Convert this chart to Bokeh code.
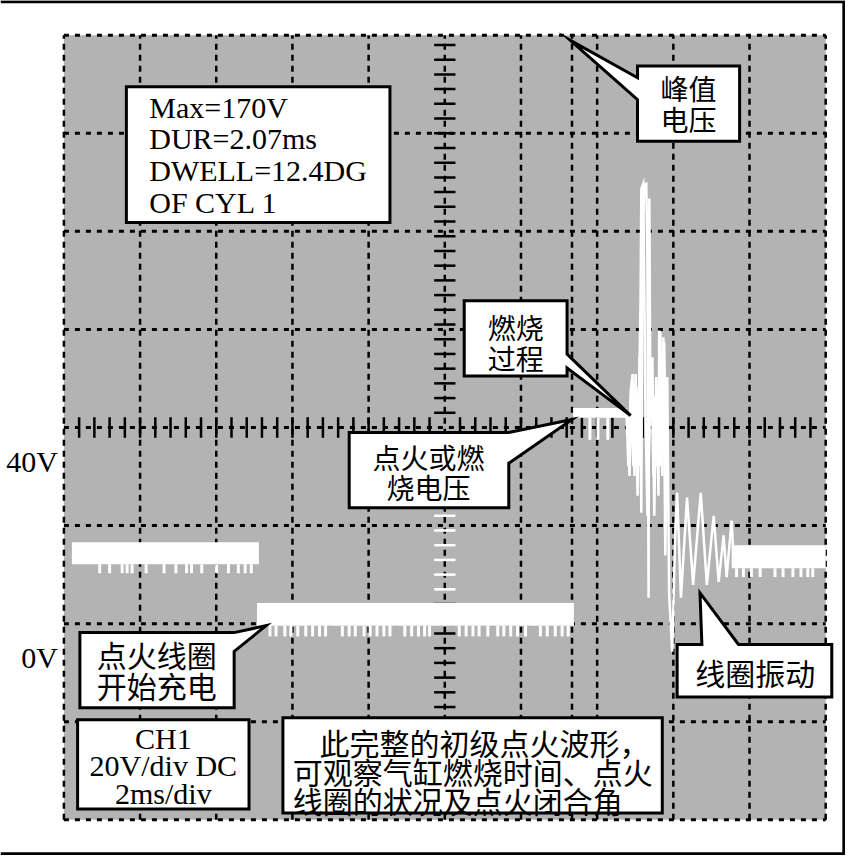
from bokeh.plotting import figure
from bokeh.models import Range1d
from bokeh.core.properties import value
from bokeh.embed import file_html
from bokeh.resources import INLINE

# ---------------- data ----------------
# graticule: 2 ms/div horizontally, 20 V/div vertically
grid_t = [0, 2, 4, 6, 8, 10, 12, 14, 16, 18, 20]
grid_v = [-40, -20, 0, 20, 40, 60, 80, 100, 120]
cursor_t = [13.34]
center_t = 10
center_v = 40

# voltage labels on the left
tick_values = [40, 0]
tick_labels = ["40V", "0V"]

# flat parts of the primary waveform (thick noisy bands), time in ms, volts
level_start = [0.21, 5.07, 13.37, 17.53]
level_end = [5.12, 13.39, 14.77, 20.0]
level_top = [16.6, 4.2, 44.0, 16.0]
level_bottom = [12.1, -0.4, 42.0, 11.3]
level_dip = [10.3, -2.6, 37.5, 9.5]

# noise dips hanging under each band
dips_battery = [0.94, 1.20, 1.53, 1.66, 1.79, 2.16, 2.63, 2.94, 3.22, 3.35,
                3.62, 4.01, 4.32, 4.58, 4.76, 4.92]
dips_dwell = [5.41, 5.57, 5.80, 5.96, 6.14, 6.35, 6.53, 6.71, 6.87, 7.31,
              7.49, 7.65, 7.88, 8.04, 8.22, 8.40, 8.56, 8.95, 9.13, 9.31,
              9.47, 9.60, 10.38, 10.56, 10.74, 10.90, 11.13, 11.39, 11.55,
              11.73, 11.91, 12.12, 12.51, 12.69, 12.90, 13.08, 13.24]
dips_burn = [13.81, 14.02, 14.28]
dips_rest = [17.66, 17.84, 18.05, 18.28, 18.67, 18.88, 19.14, 19.35, 19.53, 19.66]

# end of burn, peak and coil ringing (first sweep)
osc_t = [14.77, 14.82, 14.88, 14.93, 14.98, 15.03, 15.09, 15.11, 15.16, 15.19,
         15.24, 15.29, 15.32, 15.35, 15.37, 15.40, 15.45, 15.50, 15.55, 15.61,
         15.63, 15.68, 15.74, 15.79, 15.84, 15.89, 15.97, 16.05, 16.10, 16.20,
         16.36, 16.52, 16.72, 16.88, 17.06, 17.19, 17.32, 17.40, 17.53, 17.58]
osc_v = [43.0, 32.1, 47.3, 50.9, 30.1, 48.3, 32.1, 54.3, 22.6, 80.6,
         89.5, 89.7, 74.5, 5.3, 86.7, 42.2, 54.3, 22.0, 50.3, 26.1,
         59.8, 32.1, 58.4, 13.9, 50.3, 5.9, -5.7, 18.0, 26.7, 5.3,
         25.7, 7.9, 26.7, 7.9, 22.0, 8.5, 18.0, 9.5, 21.0, 13.9]
# overlapping second sweep around the firing spike
osc2_t = [14.80, 14.85, 14.90, 14.95, 15.01, 15.06, 15.14, 15.16, 15.21, 15.27,
          15.32, 15.42, 15.48, 15.53, 15.58, 15.66, 15.71, 15.76, 15.81]
osc2_v = [42.2, 30.1, 48.3, 32.1, 50.9, 26.1, 66.5, 88.7, 89.7, 42.2,
          22.0, 53.9, 30.1, 46.3, 32.1, 59.4, 30.1, 57.4, 32.1]

# ---------------- figure ----------------
X0, X1 = -1.6645, 20.5202
Y0, Y1 = -47.2727, 127.0707
p = figure(width=845, height=855, x_range=Range1d(X0, X1), y_range=Range1d(Y0, Y1),
           output_backend="svg", toolbar_location=None, min_border=0,
           x_axis_location=None, y_axis_location=None)
p.outline_line_color = None
p.background_fill_color = "white"
p.border_fill_color = "white"
p.grid.grid_line_color = None

GRAY = "#b3b3b3"
gl, gr, gb, gt = grid_t[0], grid_t[-1], grid_v[0], grid_v[-1]

# screen area
p.quad(left=[gl], right=[gr], bottom=[gb], top=[gt], fill_color=GRAY, line_color=None)

# graticule
vt = grid_t + cursor_t
p.segment(x0=vt, x1=vt, y0=[gb] * len(vt), y1=[gt] * len(vt),
          line_color="black", line_width=2.5, line_dash="6 5")
p.segment(x0=[gl] * len(grid_v), x1=[gr] * len(grid_v), y0=grid_v, y1=grid_v,
          line_color="black", line_width=3, line_dash="5 6")

# minor ticks on the centre cross
h_ticks = [round(0.4 * i, 2) for i in range(1, 50) if i % 25 != 0]
p.segment(x0=h_ticks, x1=h_ticks, y0=[center_v - 2.1] * len(h_ticks),
          y1=[center_v + 2.1] * len(h_ticks), line_color="black", line_width=2.5)
v_ticks = [center_v + 3 * k for k in range(-26, 27) if k != 0]
v_black = [v for v in v_ticks if not (6 <= v <= 24)]
v_white = [v for v in v_ticks if 6 <= v <= 24]
for vals, col in ((v_black, "black"), (v_white, "white")):
    p.segment(x0=[center_t - 0.28] * len(vals), x1=[center_t + 0.28] * len(vals),
              y0=vals, y1=vals, line_color=col, line_width=2.5)

# waveform
p.quad(left=level_start, right=level_end, bottom=level_bottom, top=level_top,
       fill_color="white", line_color=None)
for dips, i in ((dips_battery, 0), (dips_dwell, 1), (dips_burn, 2), (dips_rest, 3)):
    p.segment(x0=dips, x1=dips, y0=[level_bottom[i]] * len(dips),
              y1=[level_dip[i]] * len(dips), line_color="white", line_width=3)
p.line(osc2_t, osc2_v, line_color="white", line_width=2.5, line_join="miter")
p.line(osc_t, osc_v, line_color="white", line_width=2.5, line_join="miter")

# ---------------- call-outs ----------------
callout_xs = [
    [1.64, 8.56, 8.56, 1.64],
    [15.06, 17.74, 17.74, 15.06, 15.06, 13.29, 15.06],
    [10.51, 13.21, 13.21, 14.88, 13.21, 13.21, 10.51],
    [7.49, 11.68, 13.34, 11.68, 11.68, 7.49],
    [0.42, 4.47, 5.31, 4.47, 4.47, 0.42],
    [0.36, 4.86, 4.86, 0.36],
    [5.75, 15.71, 15.71, 5.75],
    [16.10, 16.75, 16.70, 17.71, 20.16, 20.16, 16.10],
]
callout_ys = [
    [109.49, 109.49, 81.82, 81.82],
    [113.74, 113.74, 98.38, 98.38, 106.87, 118.99, 111.31],
    [65.86, 65.86, 54.95, 42.42, 52.12, 50.51, 50.51],
    [38.99, 38.99, 41.62, 32.73, 23.64, 23.64],
    [-1.82, -1.82, -0.40, -5.66, -17.17, -17.17],
    [-19.60, -19.60, -37.78, -37.78],
    [-19.19, -19.19, -38.59, -38.59],
    [-4.24, -4.24, 6.26, -4.24, -4.24, -14.95, -14.95],
]
p.patches(callout_xs, callout_ys, fill_color="white", line_color="black",
          line_width=3, line_join="miter")

SERIF = value("Liberation Serif")
CJK = value("Noto Sans CJK SC")

p.text(x=[2.24], y=[95.66], text=["Max=170V\nDUR=2.07ms\nDWELL=12.4DG\nOF CYL 1"],
       text_font=SERIF, text_font_size="30px", text_align="left",
       text_baseline="middle", text_line_height=0.96, text_color="black")
p.text(x=[2.61], y=[-29.0], text=["CH1\n20V/div DC\n2ms/div"],
       text_font=SERIF, text_font_size="30px", text_align="center",
       text_baseline="middle", text_line_height=0.83, text_color="black")
p.text(x=[-0.156] * 2, y=tick_values, text=tick_labels, y_offset=34,
       text_font=SERIF, text_font_size="30px", text_align="right",
       text_baseline="middle", text_color="black")

p.text(x=[16.40, 11.86, 9.57], y=[106.06, 57.37, 30.91],
       text=["峰值\n电压", "燃烧\n过程", "点火或燃\n烧电压"],
       text_font=CJK, text_font_size="28px", text_align="center",
       text_baseline="middle", text_line_height=0.77, text_color="black")
p.text(x=[2.44], y=[-9.29], text=["点火线圈\n开始充电"],
       text_font=CJK, text_font_size="30px", text_align="center",
       text_baseline="middle", text_line_height=0.70, text_color="black")
p.text(x=[18.15], y=[-9.90], text=["线圈振动"], text_font=CJK, text_font_size="30px",
       text_align="center", text_baseline="middle", text_color="black")
p.text(x=[6.71, 6.01, 6.01], y=[-24.04, -30.10, -35.96],
       text=["此完整的初级点火波形，", "可观察气缸燃烧时间、点火", "线圈的状况及点火闭合角"],
       text_font=CJK, text_font_size="30px", text_align="left",
       text_baseline="middle", text_color="black")

# outer frame of the picture
p.line([X0, 20.476, 20.476, X0], [126.83, 126.83, -46.93, -46.93],
       line_color="black", line_width=3, line_join="miter")

open("out.html", "w").write(file_html(p, INLINE))
